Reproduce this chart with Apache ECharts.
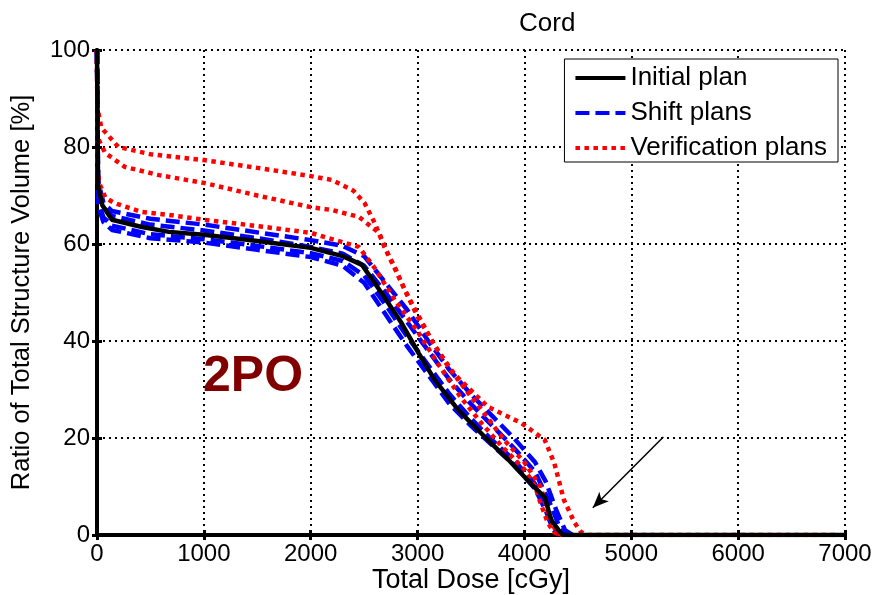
<!DOCTYPE html>
<html>
<head>
<meta charset="utf-8">
<script src="https://cdn.jsdelivr.net/npm/echarts@6/dist/echarts.min.js"></script>
<style>
  html, body { margin: 0; padding: 0; background: #fff; }
  #chart { width: 877px; height: 595px; }
</style>
</head>
<body>
<div id="chart"></div>
<script>
const xTicks = [0, 1000, 2000, 3000, 4000, 5000, 6000, 7000]
const yTicks = [0, 20, 40, 60, 80, 100]

// Initial plan (black solid)
const initialPlan = [[0,100],[10,72],[50,68],[140,65],[420,63.5],[673,62.5],[1000,61.9],[1500,60.6],[2000,59.2],[2300,57.5],[2480,55.7],[2660,50],[2850,43.7],[3010,37.5],[3160,32],[3380,25.8],[3630,20.2],[3850,15.5],[4090,9.9],[4190,7.8],[4250,3.1],[4320,1],[4360,0],[7000,0]]

// Shift plans (blue dashed)
const shift1 = [[0,100],[10,73],[60,68.5],[140,66.8],[500,65.2],[1000,64],[1500,62.4],[2000,60.8],[2300,59.6],[2500,57.5],[2700,52],[2900,46.5],[3100,40],[3300,34],[3500,29],[3700,24.5],[3900,20],[4100,15],[4200,11],[4300,5],[4380,1],[4450,0]]
const shift2 = [[0,100],[10,71],[60,67.5],[140,65.8],[500,64],[1000,62.8],[1500,61.2],[2000,59.4],[2300,58],[2500,55.5],[2700,50],[2900,44],[3100,38],[3300,32],[3500,27],[3700,22.5],[3900,18],[4100,13],[4250,6],[4330,1.5],[4400,0]]
const shift3 = [[0,100],[10,69],[60,65.5],[140,63.8],[500,62],[1000,61],[1500,59.6],[2000,58.1],[2300,56.5],[2500,53.5],[2700,47.5],[2900,41],[3100,35],[3300,29],[3500,24],[3700,19.5],[3900,15.5],[4100,10.5],[4200,6],[4280,1.5],[4350,0]]
const shift4 = [[0,100],[10,68],[60,64.5],[140,62.9],[500,61.2],[1000,60.3],[1500,58.8],[2000,57.3],[2300,55.5],[2500,52],[2700,45.5],[2900,39],[3100,33],[3300,27],[3500,22.5],[3700,18.5],[3900,14.5],[4100,9.5],[4200,5],[4270,1],[4330,0]]

// Verification plans (red dotted)
const verif1 = [[0,100],[5,88],[40,84],[200,80],[500,78.5],[1000,77.3],[1500,75.7],[2000,74],[2200,73.2],[2400,71],[2505,68.4],[2600,64.3],[2690,59.4],[2785,55.3],[2880,50.5],[2945,47.8],[3160,39],[3350,33],[3660,26.4],[3970,23.1],[4190,19.6],[4280,14.8],[4370,7.2],[4470,2.5],[4530,0.6],[4600,0],[6950,0]]
const verif2 = [[0,100],[5,82],[75,78.8],[260,75.9],[580,74.2],[1000,72.6],[1500,70],[2000,67.6],[2200,67],[2450,65.6],[2640,62.3],[2720,58],[2850,52],[3000,45],[3150,39.5],[3290,34.6],[3500,28.5],[3600,25.8],[3810,19.6],[4000,15],[4150,10],[4230,4],[4300,0.5],[4350,0]]
const verif3 = [[0,100],[5,76],[20,72.6],[80,69.5],[168,68.4],[420,66.6],[673,66],[1000,65],[1500,63.7],[2000,62.3],[2200,61],[2450,59.4],[2600,55],[2800,48],[3000,42],[3200,35],[3400,28.5],[3600,23],[3800,18],[4000,13.5],[4100,10],[4160,6],[4220,2.5],[4280,0.5],[4330,0]]

const arrowFrom = [5300, 20.2]
const arrowTo = [4640, 5.6]

const font = '"Liberation Sans", Arial, sans-serif'

function shiftSeries(data) {
  return {
    type: 'line', name: 'Shift plans', data, showSymbol: false, symbol: 'none',
    lineStyle: { color: '#0000ff', width: 4.5, type: [14, 6] },
    itemStyle: { color: '#0000ff' },
    z: 2,
  }
}

function verifSeries(data) {
  return {
    type: 'line', name: 'Verification plans', data, showSymbol: false, symbol: 'none',
    lineStyle: { color: '#ff0000', width: 4.5, type: [4.5, 4.5] },
    itemStyle: { color: '#ff0000' },
    z: 3,
  }
}

const chart = echarts.init(document.getElementById('chart'))

chart.setOption({
  backgroundColor: '#fff',
  animation: false,
  title: {
    text: 'Cord',
    left: 514, top: 6,
    textStyle: { fontFamily: font, fontSize: 26, fontWeight: 'normal', color: '#000' },
  },
  grid: { left: 97, right: 32, top: 50, bottom: 60, outerBoundsMode: 'none' },
  legend: {
    data: ['Initial plan', 'Shift plans', 'Verification plans'],
    orient: 'vertical',
    right: 39, top: 59,
    backgroundColor: '#fff',
    borderColor: '#000', borderWidth: 1,
    borderRadius: 0,
    padding: [6, 11, 1, 9],
    itemWidth: 50, itemHeight: 25, itemGap: 9,
    itemStyle: { opacity: 0 },
    lineStyle: { width: 4 },
    textStyle: { fontFamily: font, fontSize: 26, color: '#000' },
  },
  xAxis: [
    {
      type: 'value', min: 0, max: 7000, interval: 1000,
      name: 'Total Dose [cGy]', nameLocation: 'middle', nameGap: 32, nameMoveOverlap: false,
      nameTextStyle: { fontFamily: font, fontSize: 27, color: '#000' },
      axisLine: { lineStyle: { color: '#000', width: 4 } },
      axisTick: { inside: true, length: 5, lineStyle: { color: '#000', width: 3 } },
      axisLabel: { fontFamily: font, fontSize: 24, color: '#000', margin: 7, formatter: v => String(v) },
      splitLine: { show: true, lineStyle: { color: '#000', width: 2, type: [2, 4] } },
    },
    {
      type: 'value', min: 0, max: 7000, interval: 1000, position: 'top',
      axisLine: { lineStyle: { color: '#000', width: 4 } },
      axisTick: { inside: true, length: 5, lineStyle: { color: '#000', width: 3 } },
      axisLabel: { show: false },
      splitLine: { show: false },
    },
  ],
  yAxis: [
    {
      type: 'value', min: 0, max: 100, interval: 20,
      name: 'Ratio of Total Structure Volume [%]', nameLocation: 'middle', nameGap: 62,
      nameTextStyle: { fontFamily: font, fontSize: 25.5, color: '#000' },
      axisLine: { show: true, lineStyle: { color: '#000', width: 4 } },
      axisTick: { show: true, inside: true, length: 5, lineStyle: { color: '#000', width: 3 } },
      axisLabel: { fontFamily: font, fontSize: 24, color: '#000', margin: 7 },
      splitLine: { show: true, lineStyle: { color: '#000', width: 2, type: [2, 4] } },
    },
    {
      type: 'value', min: 0, max: 100, interval: 20, position: 'right',
      axisLine: { show: true, lineStyle: { color: '#000', width: 4 } },
      axisTick: { show: true, inside: true, length: 5, lineStyle: { color: '#000', width: 3 } },
      axisLabel: { show: false },
      splitLine: { show: false },
    },
  ],
  series: [
    shiftSeries(shift1),
    shiftSeries(shift2),
    shiftSeries(shift3),
    shiftSeries(shift4),
    verifSeries(verif1),
    verifSeries(verif2),
    verifSeries(verif3),
    {
      type: 'line', name: 'Initial plan', data: initialPlan, showSymbol: false, symbol: 'none',
      lineStyle: { color: '#000', width: 4.5 },
      itemStyle: { color: '#000' },
      z: 4,
      markLine: {
        silent: true,
        symbol: ['none', 'arrow'],
        symbolSize: [10, 16],
        label: { show: false },
        lineStyle: { color: '#000', width: 1.5, type: 'solid' },
        data: [[{ coord: arrowFrom }, { coord: arrowTo }]],
      },
    },
  ],
  graphic: [
    {
      type: 'text', left: 203, top: 352,
      style: { text: '2PO', fill: '#800000', font: 'bold 50px ' + font },
    },
  ],
})
</script>
</body>
</html>
